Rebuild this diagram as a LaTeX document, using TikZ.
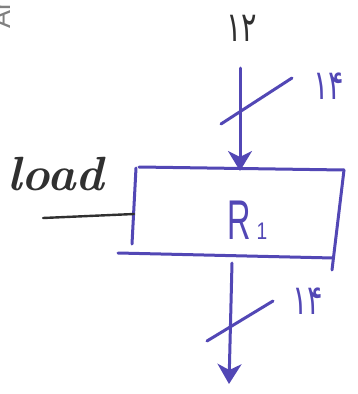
\documentclass[tikz,border=0pt]{standalone}
\usepackage{fontspec}
\newfontfamily\pers{DejaVu Sans}
\setsansfont{Liberation Sans}
\usetikzlibrary{arrows.meta}
\definecolor{ink}{HTML}{5247B5}
\definecolor{pencil}{HTML}{303030}
\tikzset{
  marker/.style={draw=ink, line width=3pt, line cap=round},
  busarrow/.style={marker, -{Stealth[length=20pt,width=24pt,inset=6pt]}},
  digits/.style={font=\pers\fontsize{36}{36}\selectfont, inner sep=0pt},
}
\newcommand{\handdigits}[1]{\scalebox{0.8}[1.15]{#1}}
\begin{document}
\begin{tikzpicture}[x=1pt,y=-1pt]
\useasboundingbox (0,0) rectangle (358,394);
\begin{scope}
\clip (0,0) rectangle (358,394);
\node[rotate=90, text=gray, font=\sffamily\fontsize{27}{27}\selectfont, anchor=base west, inner sep=0pt] (ar) at (10,29) {Ar};
\end{scope}
% register box edges
\coordinate (tl) at (139,167);
\coordinate (tr) at (344,170);
\coordinate (rb) at (332,270);
\coordinate (ltop) at (136,168);
\coordinate (lbot) at (132,244);
\coordinate (bl) at (118,253);
\coordinate (br) at (333,258);
\draw[marker] (tl) -- (tr);
\draw[marker] (tr) -- (rb);
\draw[marker] (ltop) -- (lbot);
\draw[marker] (bl) -- (br);
\node[text=ink, font=\sffamily\fontsize{56}{56}\selectfont, inner sep=0pt, anchor=base west] (R) at (227,239) {\scalebox{0.58}[1]{R}\hspace{6pt}\scalebox{0.8}[1]{\fontsize{24}{24}\selectfont 1}};
% input bus
\node[text=pencil, digits] (in) at (242,28) {\handdigits{۱۲}};
\coordinate (intop) at (240,68);
\coordinate (intip) at (240,171);
\draw[busarrow] (intop) -- (intip);
\coordinate (s1a) at (221,124);
\coordinate (s1b) at (292,78);
\draw[marker] (s1a) -- (s1b);
\node[text=ink, digits] (w1) at (329,86) {\handdigits{۱۴}};
% output bus
\coordinate (outtop) at (232,263);
\coordinate (outtip) at (229,384);
\draw[busarrow] (outtop) -- (outtip);
\coordinate (s2a) at (207,341);
\coordinate (s2b) at (273,301);
\draw[marker] (s2a) -- (s2b);
\node[text=ink, digits] (w2) at (308,301) {\handdigits{۱۴}};
% load
\node[text=pencil, font=\bfseries\itshape\fontsize{48}{48}\selectfont, inner sep=0pt, anchor=base] (load) at (56,190) {load};
\coordinate (lds) at (43,218);
\coordinate (lde) at (134,214);
\draw[draw=pencil, line width=2.4pt, line cap=round] (lds) -- (lde);
\end{tikzpicture}
\end{document}
